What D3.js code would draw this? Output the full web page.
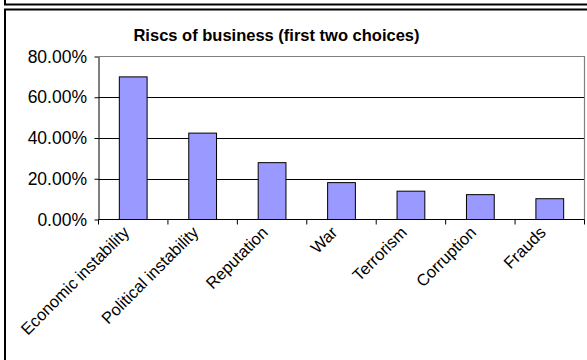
<!DOCTYPE html>
<html>
<head>
<meta charset="utf-8">
<script src="https://cdn.jsdelivr.net/npm/d3@7"></script>
<style>
  html, body { margin: 0; padding: 0; background: #fff; }
  svg { display: block; font-family: Arial, "Liberation Sans", sans-serif; }
</style>
</head>
<body>
<svg id="chart" width="587" height="360"></svg>
<script>
// Share of respondents naming each risk among their first two choices
const categories = ["Economic instability", "Political instability", "Reputation", "War", "Terrorism", "Corruption", "Frauds"];
const values = [0.70, 0.424, 0.279, 0.181, 0.139, 0.122, 0.102];
const yTicks = [0, 0.2, 0.4, 0.6, 0.8];
const title = "Riscs of business (first two choices)";

const svg = d3.select("#chart");

// Outer frames
svg.append("rect").attr("x", 5).attr("y", -10).attr("width", 600).attr("height", 14.5)
  .attr("fill", "none").attr("stroke", "#000").attr("stroke-width", 2);
svg.append("rect").attr("x", 5).attr("y", 9.5).attr("width", 600).attr("height", 400)
  .attr("fill", "#fff").attr("stroke", "#000").attr("stroke-width", 2);

const plot = { left: 98.5, right: 584.5, top: 56.5, bottom: 219.5 };

const band = d3.scaleBand().domain(categories).range([plot.left, plot.right]);
const y = d3.scaleLinear().domain([0, 0.8]).range([plot.bottom, plot.top]);

// Gridlines
svg.append("g").selectAll("line").data(yTicks.filter(t => t > 0 && t < 0.8)).join("line")
  .attr("x1", plot.left).attr("x2", plot.right)
  .attr("y1", d => Math.round(y(d)) + 0.5).attr("y2", d => Math.round(y(d)) + 0.5)
  .attr("stroke", "#000").attr("stroke-width", 1);

// Plot area border (top and right)
svg.append("path")
  .attr("d", `M${plot.left},${plot.top}H${plot.right}V${plot.bottom}`)
  .attr("fill", "none").attr("stroke", "#808080").attr("stroke-width", 1.2);

// Bars
svg.append("g").selectAll("rect").data(values).join("rect")
  .attr("x", (d, i) => band(categories[i]) + band.bandwidth() * 0.3)
  .attr("width", band.bandwidth() * 0.4)
  .attr("y", d => y(d))
  .attr("height", d => y(0) - y(d))
  .attr("fill", "#9999ff").attr("stroke", "#000").attr("stroke-width", 1);

// Y axis
const yAxis = d3.axisLeft(y).tickValues(yTicks).tickSize(4).tickSizeOuter(0)
  .tickFormat(d => (d * 100).toFixed(2) + "%");
const gy = svg.append("g").attr("transform", `translate(${plot.left},0)`).call(yAxis);
gy.select(".domain").attr("stroke", "#000");
gy.selectAll(".tick line").attr("stroke", "#000");
gy.selectAll(".tick text").attr("font-size", 17.5).attr("fill", "#000").attr("x", -11.5)
  .attr("font-family", "Arial, 'Liberation Sans', sans-serif");

// X axis with ticks at band boundaries
const gx = svg.append("g").attr("transform", `translate(0,${plot.bottom})`);
gx.append("line").attr("x1", plot.left).attr("x2", plot.right).attr("stroke", "#000");
gx.selectAll("line.tk").data(categories.concat(["__end"])).join("line").attr("class", "tk")
  .attr("x1", (d, i) => plot.left + i * band.bandwidth())
  .attr("x2", (d, i) => plot.left + i * band.bandwidth())
  .attr("y1", 0).attr("y2", 5).attr("stroke", "#000");

// Category labels, rotated
gx.selectAll("text").data(categories).join("text")
  .attr("transform", d => `translate(${band(d) + band.bandwidth() / 2 - 3},14) rotate(-45)`)
  .attr("text-anchor", "end")
  .attr("font-size", 16.5)
  .attr("fill", "#000")
  .text(d => d);

// Title
svg.append("text")
  .attr("x", 276.5).attr("y", 41)
  .attr("text-anchor", "middle")
  .attr("font-size", 16.5)
  .attr("font-weight", "bold")
  .attr("fill", "#000")
  .text(title);
</script>
</body>
</html>
